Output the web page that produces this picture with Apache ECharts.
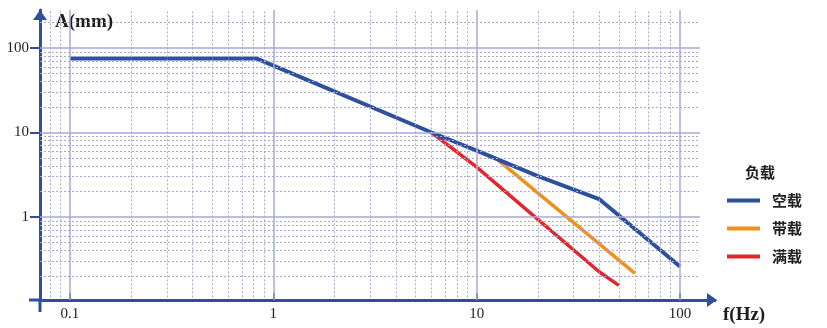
<!DOCTYPE html>
<html>
<head>
<meta charset="utf-8">
<script src="https://cdn.jsdelivr.net/npm/echarts@6/dist/echarts.min.js"></script>
<style>
  html, body { margin: 0; padding: 0; background: #fff; }
  #main { width: 827px; height: 328px; }
</style>
</head>
<body>
<div id="main"></div>
<script>
// 频率 f(Hz) / 振幅 A(mm)
var freqEmpty = [0.1, 0.83, 6, 10, 20, 40, 100];
var ampEmpty = [75, 75, 10, 6.1, 3.05, 1.63, 0.26];
var freqLoaded = [12.5, 60];
var ampLoaded = [4.9, 0.215];
var freqFull = [6, 10, 40, 50];
var ampFull = [10, 3.9, 0.225, 0.155];

var seriesNames = ['空载', '带载', '满载'];
var xTicks = [0.1, 1, 10, 100];
var yTicks = [1, 10, 100];
var xDecades = [0.01, 0.1, 1, 10];
var yDecades = [0.1, 1, 10, 100];

var X_MIN = 0.0712, X_MAX = 148.6, X_GRID_END = 125.4;
var Y_MIN = 0.1042, Y_MAX = 281.7;

var AXIS_COLOR = '#2d4f9c';
var colors = ['#2c4f9e', '#f0901f', '#e3262b'];

function pairs(xs, ys) {
  return xs.map(function (x, i) { return [x, ys[i]]; });
}

// grid lines (minor dotted at 2..9 of each decade, major solid at decades)
var gridLines = [];
xDecades.forEach(function (d) {
  for (var k = 2; k <= 9; k++) {
    var v = d * k;
    if (v > X_MIN && v < X_GRID_END) {
      gridLines.push([{ coord: [v, 0.112] }, { coord: [v, Y_MAX], lineStyle: { type: [2, 2], color: '#a7a8d2', width: 1 } }]);
    }
  }
});
yDecades.forEach(function (d) {
  for (var k = 2; k <= 9; k++) {
    var v = d * k;
    if (v > Y_MIN && v < Y_MAX) {
      gridLines.push([{ coord: [X_MIN, v] }, { coord: [X_GRID_END, v], lineStyle: { type: [2, 2], color: '#a7a8d2', width: 1 } }]);
    }
  }
});
xTicks.forEach(function (v) {
  gridLines.push([{ coord: [v, Y_MIN] }, { coord: [v, Y_MAX], lineStyle: { type: 'solid', color: '#a9aad4', width: 1.5 } }]);
});
yTicks.forEach(function (v) {
  gridLines.push([{ coord: [X_MIN, v] }, { coord: [X_GRID_END, v], lineStyle: { type: 'solid', color: '#a9aad4', width: 1.5 } }]);
});

var chart = echarts.init(document.getElementById('main'), null, { renderer: 'canvas' });

var labelFont = { fontFamily: 'Liberation Serif', fontSize: 15, color: '#1e1e1e' };

var option = {
  animation: false,
  backgroundColor: '#fff',
  color: colors,
  title: {
    text: '负载',
    left: 745,
    top: 165,
    padding: 0,
    textStyle: { fontFamily: 'Noto Sans CJK SC', fontSize: 15, fontWeight: 'bold', color: '#222' }
  },
  legend: {
    orient: 'vertical',
    left: 722,
    top: 188,
    itemWidth: 33,
    itemHeight: 4,
    itemGap: 13,
    icon: 'rect',
    data: seriesNames,
    textStyle: { fontFamily: 'Noto Sans CJK SC', fontSize: 15, fontWeight: 'bold', color: '#222', padding: [0, 0, 0, 7] }
  },
  grid: {
    left: 40,
    right: 112,
    top: 10,
    bottom: 28,
    containLabel: false,
    outerBoundsMode: 'none'
  },
  // axes cross slightly past the origin
  graphic: [
    { type: 'line', shape: { x1: 29, y1: 300, x2: 41, y2: 300 }, style: { stroke: AXIS_COLOR, lineWidth: 3 }, z: 10 },
    { type: 'line', shape: { x1: 40, y1: 299, x2: 40, y2: 312 }, style: { stroke: AXIS_COLOR, lineWidth: 3 }, z: 10 }
  ],
  xAxis: {
    type: 'log',
    logBase: 10,
    min: X_MIN,
    max: X_MAX,
    name: 'f(Hz)',
    nameLocation: 'end',
    nameGap: 8,
    nameTextStyle: { fontFamily: 'Liberation Serif', fontSize: 19, fontWeight: 'bold', color: '#1e1e1e', align: 'left', verticalAlign: 'top', padding: [6, 0, 0, 0] },
    axisLine: {
      onZero: false,
      lineStyle: { color: AXIS_COLOR, width: 3 },
      symbol: ['none', 'triangle'],
      symbolSize: [14, 10],
      symbolOffset: [0, -3]
    },
    axisTick: { show: true, inside: true, length: 7, customValues: xTicks, lineStyle: { color: AXIS_COLOR, width: 2 } },
    axisLabel: Object.assign({ margin: 7, customValues: xTicks,
      formatter: function (v) { return String(v); } }, labelFont),
    splitLine: { show: false },
    minorTick: { show: false },
    minorSplitLine: { show: false }
  },
  yAxis: {
    type: 'log',
    logBase: 10,
    min: Y_MIN,
    max: Y_MAX,
    name: 'A(mm)',
    nameLocation: 'end',
    nameGap: -12,
    nameTextStyle: { fontFamily: 'Liberation Serif', fontSize: 19, fontWeight: 'bold', color: '#1e1e1e', align: 'left', verticalAlign: 'middle', padding: [0, 0, 0, 15] },
    axisLine: {
      onZero: false,
      lineStyle: { color: AXIS_COLOR, width: 3 },
      symbol: ['none', 'triangle'],
      symbolSize: [14, 10],
      symbolOffset: [0, -5]
    },
    axisTick: { show: true, inside: false, length: 10, customValues: yTicks, lineStyle: { color: AXIS_COLOR, width: 2 } },
    axisLabel: Object.assign({ margin: 11, customValues: yTicks,
      formatter: function (v) { return String(v); } }, labelFont),
    splitLine: { show: false },
    minorTick: { show: false },
    minorSplitLine: { show: false }
  },
  series: [
    {
      name: 'grid',
      type: 'line',
      data: [],
      silent: true,
      z: 1,
      markLine: {
        silent: true,
        symbol: ['none', 'none'],
        label: { show: false },
        animation: false,
        data: gridLines
      }
    },
    {
      name: seriesNames[0],
      type: 'line',
      data: pairs(freqEmpty, ampEmpty),
      showSymbol: false,
      z: 4,
      lineStyle: { width: 4, color: colors[0] },
      itemStyle: { color: colors[0] }
    },
    {
      name: seriesNames[1],
      type: 'line',
      data: pairs(freqLoaded, ampLoaded),
      showSymbol: false,
      z: 3,
      lineStyle: { width: 3.5, color: colors[1] },
      itemStyle: { color: colors[1] }
    },
    {
      name: seriesNames[2],
      type: 'line',
      data: pairs(freqFull, ampFull),
      showSymbol: false,
      z: 3,
      lineStyle: { width: 3.5, color: colors[2] },
      itemStyle: { color: colors[2] }
    }
  ]
};

chart.setOption(option);
</script>
</body>
</html>
